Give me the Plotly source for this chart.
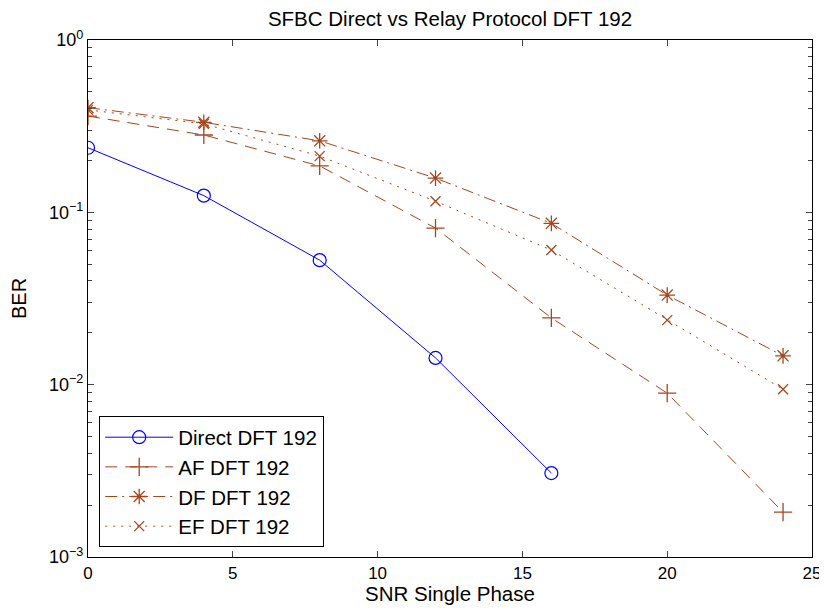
import plotly.graph_objects as go

snr = [0, 4, 8, 12, 16, 20, 24]
snr_direct = [0, 4, 8, 12, 16]
ber_direct = [0.237, 0.125, 0.0528, 0.0143, 0.00307]
ber_af = [0.362, 0.281, 0.186, 0.081, 0.0244, 0.00893, 0.00182]
ber_df = [0.405, 0.333, 0.26, 0.158, 0.0863, 0.0331, 0.0147]
ber_ef = [0.393, 0.326, 0.212, 0.116, 0.0604, 0.0237, 0.0094]

y_tickvals = [1e-3, 1e-2, 1e-1, 1]
y_ticktext = ["10<sup>−3</sup>", "10<sup>−2</sup>", "10<sup>−1</sup>", "10<sup>0</sup>"]
y_minor = [m * d for d in [1e-3, 1e-2, 1e-1] for m in range(2, 10)]
x_tickvals = [0, 5, 10, 15, 20, 25]

brown = "#a5461c"
blue = "#0000ff"

fig = go.Figure()
fig.add_trace(go.Scatter(x=snr_direct, y=ber_direct, name="Direct DFT 192", mode="lines+markers",
                         line=dict(color=blue, width=1),
                         marker=dict(symbol="circle-open", size=13, color=blue, line=dict(width=1.2))))
fig.add_trace(go.Scatter(x=snr, y=ber_af, name="AF DFT 192", mode="lines+markers",
                         line=dict(color=brown, width=1, dash="12px,8px"),
                         marker=dict(symbol="cross-thin-open", size=13, color=brown, line=dict(width=1.3, color=brown))))
fig.add_trace(go.Scatter(x=snr, y=ber_df, name="DF DFT 192", mode="lines+markers",
                         line=dict(color=brown, width=1, dash="12px,5px,2px,5px"),
                         marker=dict(symbol="asterisk-open", size=13, color=brown, line=dict(width=1.3, color=brown))))
fig.add_trace(go.Scatter(x=snr, y=ber_ef, name="EF DFT 192", mode="lines+markers",
                         line=dict(color=brown, width=1, dash="2px,6px"),
                         marker=dict(symbol="x-thin-open", size=10, color=brown, line=dict(width=1.3, color=brown))))

W, H = 819, 608
font = "Liberation Sans, Arial, Helvetica, sans-serif"
fig.update_layout(
    width=W, height=H,
    margin=dict(l=80, r=15, t=32, b=59),
    paper_bgcolor="white", plot_bgcolor="white",
    font=dict(family=font, size=17, color="black"),
    title=dict(text="SFBC Direct vs Relay Protocol DFT 192", x=(80 + W - 15) / 2 / W, xanchor="center",
               y=1 - 11 / H, yanchor="middle", font=dict(size=20.5), automargin=False),
    showlegend=True,
    legend=dict(x=0.0152, y=0.019, xanchor="left", yanchor="bottom",
                bordercolor="black", borderwidth=1.2, bgcolor="white",
                font=dict(size=20.5), tracegroupgap=0, itemwidth=68),
    xaxis=dict(range=[0, 25], tickvals=x_tickvals, ticks="inside", ticklen=6,
               showline=True, linecolor="black", linewidth=1.2, mirror="ticks", showgrid=False,
               zeroline=False, automargin=False, tickfont=dict(size=17),
               title=dict(text="SNR Single Phase", standoff=4, font=dict(size=20.5))),
    yaxis=dict(type="log", range=[-3, 0], tickmode="array", tickvals=y_tickvals, ticktext=y_ticktext,
               ticks="inside", ticklen=6, tickfont=dict(size=18),
               showline=True, linecolor="black", linewidth=1.2, mirror="ticks", showgrid=False,
               automargin=False,
               minor=dict(tickmode="array", tickvals=y_minor, ticks="inside", ticklen=4, showgrid=False),
               title=dict(text="BER", standoff=16, font=dict(size=20))),
)
fig.write_html("out.html")
